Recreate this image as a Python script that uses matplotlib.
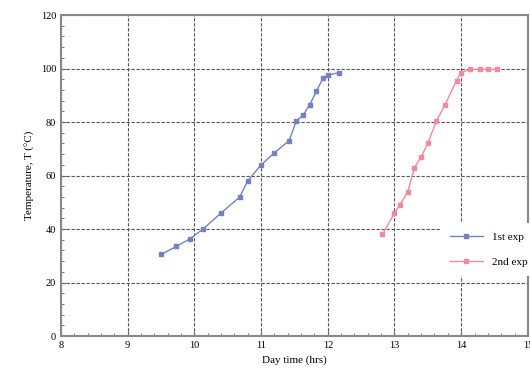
import matplotlib.pyplot as plt
from matplotlib.ticker import MultipleLocator

plt.rcParams['font.family'] = ['Liberation Serif', 'DejaVu Serif']

# 1st experiment (blue)
t1 = [9.5, 9.73, 9.93, 10.13, 10.4, 10.68, 10.8, 11.0, 11.2, 11.42,
      11.53, 11.63, 11.73, 11.83, 11.93, 12.0, 12.17]
T1 = [30.5, 33.5, 36.3, 40, 46, 52, 58, 64, 68.5, 73,
      80.5, 82.5, 86.5, 91.5, 96.5, 97.5, 98.5]

# 2nd experiment (red)
t2 = [12.82, 13.0, 13.08, 13.2, 13.3, 13.4, 13.5, 13.63, 13.76, 13.93,
      14.0, 14.13, 14.28, 14.4, 14.53]
T2 = [38, 46, 49, 54, 63, 67, 72, 80.5, 86.5, 95.5,
      98.5, 99.7, 99.7, 99.7, 99.7]

labels = ['1st exp', '2nd exp']

fig = plt.figure(figsize=(5.3, 3.85), dpi=100)
ax = fig.add_axes([0.115, 0.127, 0.881, 0.834])

ax.plot(t1, T1, color='#7482c4', lw=1.0, marker='s', ms=2.5, label=labels[0])
ax.plot(t2, T2, color='#f28a9c', lw=1.0, marker='s', ms=2.5, label=labels[1])

ax.set_xlim(8, 15)
ax.set_ylim(0, 120)
ax.xaxis.set_major_locator(MultipleLocator(1))
ax.yaxis.set_major_locator(MultipleLocator(20))
ax.xaxis.set_minor_locator(MultipleLocator(0.2))
ax.yaxis.set_minor_locator(MultipleLocator(4))

ax.grid(True, which='major', color='#555555', linestyle=(0, (3, 1.5)), lw=0.8)
ax.tick_params(which='both', direction='in', labelsize=7.5, color='#666666')
ax.tick_params(which='minor', length=2)
for s in ax.spines.values():
    s.set_color('#888888')
    s.set_linewidth(1.5)

ax.set_xlabel('Day time (hrs)', fontsize=8)
ax.set_ylabel('Temperature, T (°C)', fontsize=8)

leg = ax.legend(loc='center right', bbox_to_anchor=(1.03, 0.27), frameon=True,
                fontsize=8, handlelength=3, labelspacing=1.4, borderpad=0.8)
leg.get_frame().set_edgecolor('none')
leg.get_frame().set_facecolor('white')
leg.get_frame().set_alpha(1)

fig.savefig('out.png', dpi=100)
